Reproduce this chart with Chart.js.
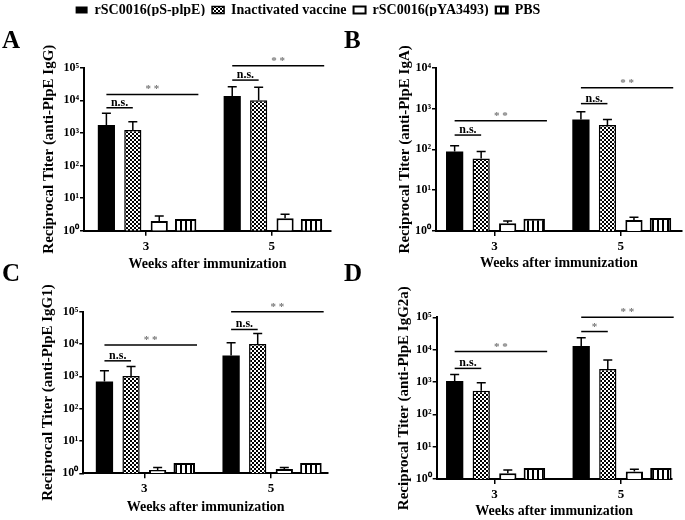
<!DOCTYPE html>
<html>
<head>
<meta charset="utf-8">
<script src="https://cdn.jsdelivr.net/npm/chart.js@4.4.1/dist/chart.umd.min.js"></script>
<style>
  body { margin: 0; background: #fff; overflow: hidden; }
  #wrap { position: relative; width: 685px; height: 520px; overflow: hidden; }
  canvas { position: absolute; }
</style>
</head>
<body>
<div id="wrap">
  <canvas id="chartA" width="340" height="250" style="left:0;top:25px"></canvas>
  <canvas id="chartB" width="343" height="250" style="left:342px;top:25px"></canvas>
  <canvas id="chartC" width="340" height="262" style="left:0;top:258px"></canvas>
  <canvas id="chartD" width="343" height="262" style="left:342px;top:258px"></canvas>
  <canvas id="legend" width="616" height="40" style="left:0;top:-4px"></canvas>
</div>
<script>
const weeks = [3, 5]
const groups = ['rSC0016(pS-plpE)', 'Inactivated vaccine', 'rSC0016(pYA3493)', 'PBS']
const ticks5 = [1, 10, 100, 1000, 10000, 100000]
const ticks4 = [1, 10, 100, 1000, 10000]

// A - IgG   (rows = groups, columns = weeks)
const igGMean = [[1740, 13500], [1230, 10000], [2.0, 2.4], [2.3, 2.3]]
const igGUpper = [[4000, 26000], [2200, 25000], [2.8, 3.2], [null, null]]
// significance: [text, week index, from group, to group, height]
const igGSig = [['n.s.', 0, 0, 1, 5900], ['* *', 0, 0, 3, 15100], ['n.s.', 1, 0, 1, 41700], ['* *', 1, 0, 3, 114800]]

// B - IgA
const igAMean = [[88, 540], [60, 395], [1.55, 1.86], [2.0, 2.08]]
const igAUpper = [[123, 830], [88, 540], [1.76, 2.17], [null, null]]
const igASig = [['n.s.', 0, 0, 1, 224], ['* *', 0, 0, 3, 501], ['n.s.', 1, 0, 1, 1318], ['* *', 1, 0, 3, 3236]]

// C - IgG1
const igG1Mean = [[690, 4400], [1020, 10000], [1.27, 1.36], [2.1, 2.1]]
const igG1Upper = [[1500, 11000], [2000, 21000], [1.5, 1.5], [null, null]]
const igG1Sig = [['n.s.', 0, 0, 1, 3020], ['* *', 0, 0, 3, 9330], ['n.s.', 1, 0, 1, 28200], ['* *', 1, 0, 3, 100000]]

// D - IgG2a
const igG2aMean = [[1070, 13000], [540, 2500], [1.5, 1.7], [2.2, 2.2]]
const igG2aUpper = [[1700, 23500], [950, 4800], [1.9, 2.0], [null, null]]
const igG2aSig = [['n.s.', 0, 0, 1, 2630], ['* *', 0, 0, 3, 8710], ['*', 1, 0, 1, 36300], ['* *', 1, 0, 3, 100000]]

Chart.defaults.font.family = '"Liberation Serif", "Times New Roman", serif'
Chart.defaults.color = '#000'

const sup = ['\u2070', '\u00b9', '\u00b2', '\u00b3', '\u2074', '\u2075']

function makePattern(w, h, draw) {
  const c = document.createElement('canvas')
  c.width = w
  c.height = h
  const g = c.getContext('2d')
  g.fillStyle = '#fff'
  g.fillRect(0, 0, w, h)
  g.fillStyle = '#000'
  draw(g)
  return g.createPattern(c, 'repeat')
}
const checker = makePattern(4, 4, g => { g.fillRect(0, 0, 2, 2); g.fillRect(2, 2, 2, 2) })
const stripes = makePattern(5, 4, g => { g.fillRect(0, 0, 2, 4) })

const styles = [
  { backgroundColor: '#000', borderColor: '#000', borderWidth: 0, barPercentage: 0.65 },
  { backgroundColor: checker, borderColor: '#000', borderWidth: 1.5, barPercentage: 0.65 },
  { backgroundColor: '#fff', borderColor: '#000', borderWidth: 2, barPercentage: 0.65 },
  { backgroundColor: stripes, borderColor: '#000', borderWidth: 2, barPercentage: 0.81 }
]

const extras = {
  id: 'extras',
  afterDatasetsDraw(chart, args, opts) {
    const ctx = chart.ctx
    const y = chart.scales.y
    ctx.save()
    ctx.strokeStyle = '#000'
    ctx.lineWidth = 1.5
    // error bars, upper half only
    opts.upper.forEach((row, d) => {
      const meta = chart.getDatasetMeta(d)
      row.forEach((v, i) => {
        if (v == null) return
        const bar = meta.data[i]
        const top = y.getPixelForValue(v)
        ctx.beginPath()
        ctx.moveTo(bar.x, bar.y)
        ctx.lineTo(bar.x, top)
        ctx.moveTo(bar.x - 4.5, top)
        ctx.lineTo(bar.x + 4.5, top)
        ctx.stroke()
      })
    })
    // significance lines
    ctx.textAlign = 'center'
    ctx.textBaseline = 'alphabetic'
    opts.sig.forEach(([txt, w, a, b, h]) => {
      const b0 = chart.getDatasetMeta(a).data[w]
      const b1 = chart.getDatasetMeta(b).data[w]
      const x0 = b0.x
      const x1 = b === 3 ? b1.x + b1.width / 2 + 2 : b1.x
      const ly = y.getPixelForValue(h)
      ctx.beginPath()
      ctx.moveTo(x0, ly)
      ctx.lineTo(x1, ly)
      ctx.stroke()
      if (txt.indexOf('*') >= 0) {
        ctx.fillStyle = '#777'
        ctx.font = 'bold 11px "Liberation Serif"'
      } else {
        ctx.fillStyle = '#000'
        ctx.font = 'bold 12px "Liberation Serif"'
      }
      ctx.fillText(txt, (x0 + x1) / 2, ly - 2)
    })
    ctx.restore()
  }
}

function makePanel(id, p) {
  return new Chart(document.getElementById(id), {
    type: 'bar',
    data: {
      datasets: groups.map((g, i) => Object.assign({
        label: g,
        data: weeks.map((w, j) => ({ x: w, y: p.mean[i][j] })),
        categoryPercentage: 0.84
      }, styles[i]))
    },
    options: {
      responsive: false,
      animation: false,
      layout: { padding: p.pad },
      scales: {
        x: {
          type: 'linear',
          offset: false,
          min: p.xMin,
          max: p.xMax,
          afterBuildTicks: s => { s.ticks = weeks.map(v => ({ value: v })) },
          afterFit: s => { s.height = p.xHeight },
          ticks: { font: { size: 13, weight: 'bold' }, padding: 3, callback: v => String(v) },
          grid: { offset: false, drawOnChartArea: false, drawTicks: true, tickLength: 5, color: '#000', lineWidth: 1.5 },
          border: { display: true, color: '#000', width: 2 },
          title: { display: true, text: 'Weeks after immunization', font: { size: 14, weight: 'bold' }, padding: { top: 0, bottom: p.xTitlePad } }
        },
        y: {
          type: 'logarithmic',
          min: 1,
          max: p.yMax,
          afterBuildTicks: s => { s.ticks = p.yTicks.map(v => ({ value: v })) },
          afterFit: s => { s.width = p.yWidth },
          ticks: { font: { size: 12, weight: 'bold' }, padding: 1, callback: v => '10' + sup[Math.round(Math.log10(v))] },
          grid: { drawOnChartArea: false, drawTicks: true, tickLength: 4, color: '#000', lineWidth: 1.5 },
          border: { display: true, color: '#000', width: 2 },
          title: { display: true, text: p.yTitle, font: { size: 15, weight: 'bold' }, padding: { top: p.yTitlePad, bottom: 0 } }
        }
      },
      plugins: {
        legend: { display: false },
        tooltip: { enabled: false },
        title: {
          display: true,
          text: p.letter,
          align: 'start',
          font: { size: 25, weight: 'bold' },
          padding: { top: 2, bottom: p.letterPad }
        },
        extras: { upper: p.upper, sig: p.sig }
      }
    },
    plugins: [extras]
  })
}

new Chart(document.getElementById('legend'), {
  type: 'bar',
  data: { labels: [], datasets: groups.map((g, i) => Object.assign({ label: g, data: [] }, styles[i])) },
  options: {
    responsive: false,
    animation: false,
    scales: { x: { display: false }, y: { display: false } },
    plugins: {
      tooltip: { enabled: false },
      legend: {
        labels: { boxWidth: 12, boxHeight: 7, padding: 7, color: '#000', font: { size: 14, weight: 'bold' } }
      }
    }
  }
})

makePanel('chartA', {
  letter: 'A', yTitle: 'Reciprocal Titer (anti-PlpE IgG)', mean: igGMean, upper: igGUpper, sig: igGSig,
  yMax: 100000, yTicks: ticks5, xMin: 2.014, xMax: 5.94,
  pad: { left: 2, right: 9, top: 0, bottom: 0 }, yWidth: 82, xHeight: 44.3, yTitlePad: 38.5, xTitlePad: 2, letterPad: 10.7
})
makePanel('chartB', {
  letter: 'B', yTitle: 'Reciprocal Titer (anti-PlpE IgA)', mean: igAMean, upper: igAUpper, sig: igASig,
  yMax: 10000, yTicks: ticks4, xMin: 2.075, xMax: 5.966,
  pad: { left: 2, right: 3.3, top: 0, bottom: 0 }, yWidth: 92, xHeight: 44, yTitlePad: 52.5, xTitlePad: 3, letterPad: 10.7
})
makePanel('chartC', {
  letter: 'C', yTitle: 'Reciprocal Titer (anti-PlpE IgG1)', mean: igG1Mean, upper: igG1Upper, sig: igG1Sig,
  yMax: 100000, yTicks: ticks5, xMin: 2.036, xMax: 5.9,
  pad: { left: 2, right: 12, top: 0, bottom: 0 }, yWidth: 81.3, xHeight: 46.7, yTitlePad: 37.5, xTitlePad: 4, letterPad: 21.7
})
makePanel('chartD', {
  letter: 'D', yTitle: 'Reciprocal Titer (anti-PlpE IgG2a)', mean: igG2aMean, upper: igG2aUpper, sig: igG2aSig,
  yMax: 100000, yTicks: ticks5, xMin: 2.086, xMax: 5.8,
  pad: { left: 2, right: 13.3, top: 0, bottom: 0 }, yWidth: 92.7, xHeight: 41, yTitlePad: 51.5, xTitlePad: 0, letterPad: 27.3
})
</script>
</body>
</html>
